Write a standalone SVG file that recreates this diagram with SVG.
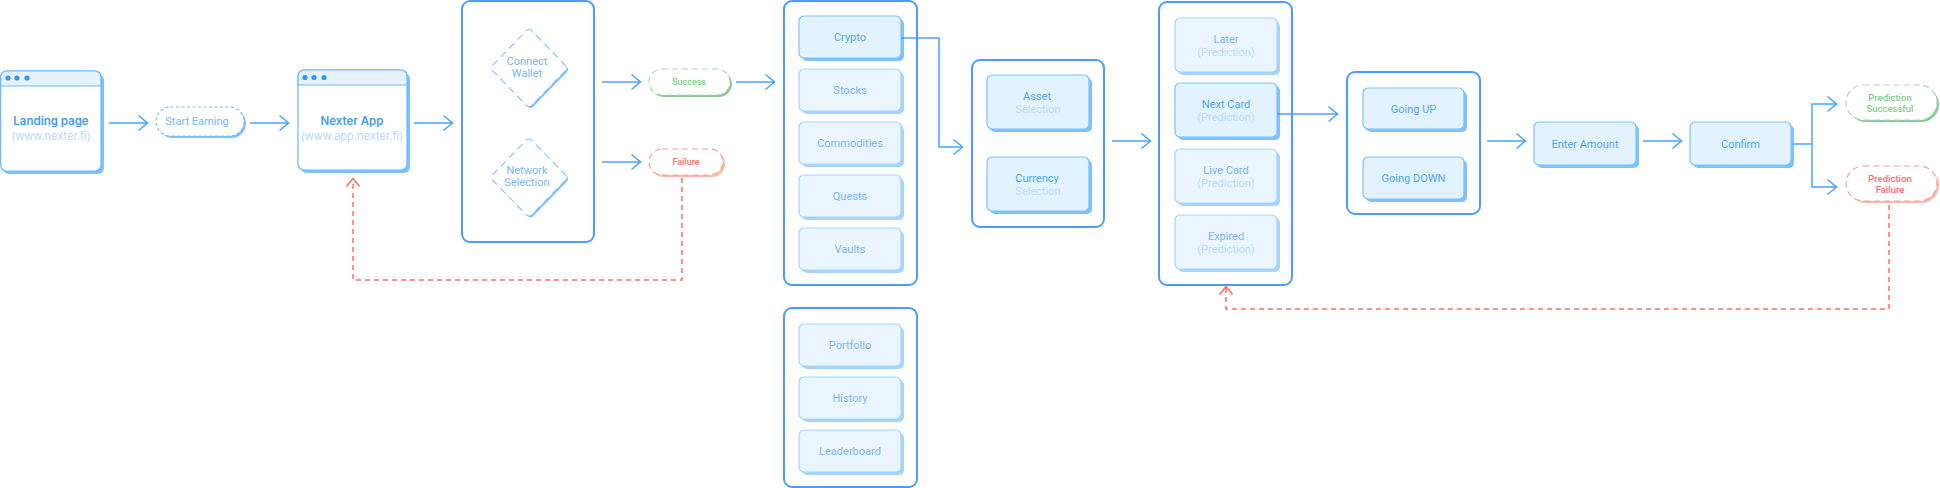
<svg xmlns="http://www.w3.org/2000/svg" width="1940" height="488" viewBox="0 0 1940 488">
<style>
text{font-family:Roboto,"Liberation Sans",sans-serif;font-size:11px;text-anchor:middle;fill:#4ea6ff}
.f{fill:#7ab4ff}
.s{fill:#b8dcff}
.h{font-family:Inter,"Liberation Sans",sans-serif;font-weight:600;font-size:11.500px;fill:#3f9dfb}
.t{font-family:Inter,"Liberation Sans",sans-serif;font-size:11px;fill:#b4daff}
.grp{fill:#fff;stroke:#4a9dff;stroke-width:2}
.sh{fill:#7cc2ff;stroke:none}
.shf{fill:#a4d4ff;stroke:none}
.it{fill:#e3f2ff;stroke:#7cc2ff;stroke-width:1.200}
.itf{fill:#ebf5ff;stroke:#a4d6ff;stroke-width:1.200}
.w{fill:#fff;stroke:#6cb8ff;stroke-width:1.200}
.hd{fill:#e6f3ff;stroke:#6cb8ff;stroke-width:1.200}
.d{fill:#2c99ff}
.dash{fill:#fff;stroke:#7cc0ff;stroke-width:1.200;stroke-dasharray:3 2.500}
.dia{fill:#fff;stroke:#8ac6ff;stroke-width:1.200;stroke-dasharray:7 5}
.gs{fill:#8fc79a}.gd{fill:#fff;stroke:#a2dcae;stroke-width:1.200;stroke-dasharray:6 4}
.rs{fill:#ffb7ae}.rd{fill:#fff;stroke:#ff9c92;stroke-width:1.200;stroke-dasharray:6 4}
.gt{fill:#7fce8e;font-weight:500}.rt{fill:#ff6f63;font-weight:500}
#connectors path{fill:none;stroke:#46a4ff;stroke-width:1.500;marker-end:url(#a)}
#connectors path.r{stroke:#ff6f63;stroke-dasharray:5 4;marker-end:url(#ar)}
#connectors path.n{marker-end:none}
</style>
<defs>
<marker id="a" markerUnits="userSpaceOnUse" markerWidth="14" markerHeight="20" refX="11" refY="10" orient="auto"><path d="M1.500 2.500L10.500 10L1.500 17.500" fill="none" stroke="#46a4ff" stroke-width="1.500"/></marker>
<marker id="ar" markerUnits="userSpaceOnUse" markerWidth="14" markerHeight="20" refX="11" refY="10" orient="auto"><path d="M2.500 3.500L10.500 10L2.500 16.500" fill="none" stroke="#ff6f63" stroke-width="1.500"/></marker>
<path id="dm" d="M526.500 30.500Q529 28.500 531.500 30.500L565.500 65.500Q567.500 68 565.500 70.500L531.500 105.500Q529 107.500 526.500 105.500L492.500 70.500Q490.500 68 492.500 65.500z"/>
</defs>

<g id="landing"><rect class="sh" x="3" y="74" width="101" height="100" rx="6"/><rect class="w" x="0.600" y="71" width="100.400" height="100" rx="6"/><path class="hd" d="M0.600 86V77a6 6 0 0 1 6-6H95a6 6 0 0 1 6 6v9z"/><circle class="d" cx="8" cy="78" r="2.600"/><circle class="d" cx="17" cy="78" r="2.600"/><circle class="d" cx="27" cy="78" r="2.600"/><text class="h" x="51" y="125">Landing page</text><text class="t" x="51" y="140">(www.nexter.fi)</text></g>
<g id="start"><rect class="sh" x="158" y="109" width="88" height="29" rx="14.500"/><rect class="dash" x="156" y="107" width="88" height="29" rx="14.500"/><text class="f" x="197" y="125">Start Earning</text></g>
<g id="app"><rect class="sh" x="301" y="73" width="109" height="100" rx="6"/><rect class="w" x="298" y="70" width="109" height="100" rx="6"/><path class="hd" d="M298 85V76a6 6 0 0 1 6-6H401a6 6 0 0 1 6 6v9z"/><circle class="d" cx="305" cy="77.500" r="2.600"/><circle class="d" cx="314" cy="77.500" r="2.600"/><circle class="d" cx="324" cy="77.500" r="2.600"/><text class="h" x="352" y="125">Nexter App</text><text class="t" x="352" y="140">(www.app.nexter.fi)</text></g>

<g id="wallet-group"><rect class="grp" x="462" y="1" width="132" height="241" rx="8"/>
<g id="connect"><use href="#dm" class="sh" x="1.500" y="1.500"/><use href="#dm" class="dia"/><text class="f" x="527" y="65">Connect</text><text class="f" x="527" y="77">Wallet</text></g>
<g id="network"><use href="#dm" class="sh" x="1.500" y="111"/><use href="#dm" class="dia" y="109.500"/><text class="f" x="527" y="174">Network</text><text class="f" x="527" y="186">Selection</text></g></g>
<g id="success"><rect class="gs" x="651" y="71" width="81" height="26" rx="13"/><rect class="gd" x="649" y="69" width="81" height="26" rx="13"/><text class="gt" x="689" y="85" style="font-size:9px">Success</text></g>
<g id="failure"><rect class="rs" x="651" y="151" width="74" height="26" rx="13"/><rect class="rd" x="649" y="149" width="74" height="26" rx="13"/><text class="rt" x="686" y="165" style="font-size:9px">Failure</text></g>

<g id="markets"><rect class="grp" x="784" y="1" width="133" height="284" rx="8"/>
<g id="crypto"><rect class="sh" x="802" y="19" width="102" height="42" rx="5"/><rect class="it" x="799" y="16" width="102" height="42" rx="5"/><text x="850" y="41">Crypto</text></g>
<g id="stocks"><rect class="shf" x="802" y="72" width="102" height="42" rx="5"/><rect class="itf" x="799" y="69" width="102" height="42" rx="5"/><text class="f" x="850" y="94">Stocks</text></g>
<g id="commodities"><rect class="shf" x="802" y="125" width="102" height="42" rx="5"/><rect class="itf" x="799" y="122" width="102" height="42" rx="5"/><text class="f" x="850" y="147">Commodities</text></g>
<g id="quests"><rect class="shf" x="802" y="178" width="102" height="42" rx="5"/><rect class="itf" x="799" y="175" width="102" height="42" rx="5"/><text class="f" x="850" y="200">Quests</text></g>
<g id="vaults"><rect class="shf" x="802" y="231" width="102" height="42" rx="5"/><rect class="itf" x="799" y="228" width="102" height="42" rx="5"/><text class="f" x="850" y="253">Vaults</text></g></g>

<g id="account"><rect class="grp" x="784" y="308" width="133" height="179" rx="8"/>
<g id="portfolio"><rect class="shf" x="802" y="327" width="102" height="42" rx="5"/><rect class="itf" x="799" y="324" width="102" height="42" rx="5"/><text class="f" x="850" y="349">Portfolio</text></g>
<g id="history"><rect class="shf" x="802" y="380" width="102" height="42" rx="5"/><rect class="itf" x="799" y="377" width="102" height="42" rx="5"/><text class="f" x="850" y="402">History</text></g>
<g id="leaderboard"><rect class="shf" x="802" y="433" width="102" height="42" rx="5"/><rect class="itf" x="799" y="430" width="102" height="42" rx="5"/><text class="f" x="850" y="455">Leaderboard</text></g></g>

<g id="selection"><rect class="grp" x="972" y="60" width="132" height="167" rx="8"/>
<g id="asset"><rect class="sh" x="990" y="78" width="102" height="54" rx="5"/><rect class="it" x="987" y="75" width="102" height="54" rx="5"/><text x="1037" y="100">Asset</text><text class="s" x="1038" y="113">Selection</text></g>
<g id="currency"><rect class="sh" x="990" y="160" width="102" height="54" rx="5"/><rect class="it" x="987" y="157" width="102" height="54" rx="5"/><text x="1037" y="182">Currency</text><text class="s" x="1038" y="195">Selection</text></g></g>

<g id="cards"><rect class="grp" x="1159" y="2" width="133" height="283" rx="8"/>
<g id="later"><rect class="shf" x="1178" y="21" width="102" height="54" rx="5"/><rect class="itf" x="1175" y="18" width="102" height="54" rx="5"/><text class="f" x="1226" y="43">Later</text><text class="s" x="1226" y="56">(Prediction)</text></g>
<g id="next"><rect class="sh" x="1178" y="86" width="102" height="54" rx="5"/><rect class="it" x="1175" y="83" width="102" height="54" rx="5"/><text x="1226" y="108">Next Card</text><text class="s" x="1226" y="121">(Prediction)</text></g>
<g id="live"><rect class="shf" x="1178" y="152" width="102" height="54" rx="5"/><rect class="itf" x="1175" y="149" width="102" height="54" rx="5"/><text class="f" x="1226" y="174">Live Card</text><text class="s" x="1226" y="187">(Prediction)</text></g>
<g id="expired"><rect class="shf" x="1178" y="218" width="102" height="54" rx="5"/><rect class="itf" x="1175" y="215" width="102" height="54" rx="5"/><text class="f" x="1226" y="240">Expired</text><text class="s" x="1226" y="253">(Prediction)</text></g></g>

<g id="direction"><rect class="grp" x="1347" y="72" width="133" height="142" rx="8"/>
<g id="up"><rect class="sh" x="1366" y="91" width="101" height="41" rx="5"/><rect class="it" x="1363" y="88" width="101" height="41" rx="5"/><text x="1413.500" y="113">Going UP</text></g>
<g id="down"><rect class="sh" x="1366" y="160" width="101" height="42" rx="5"/><rect class="it" x="1363" y="157" width="101" height="42" rx="5"/><text x="1413.500" y="182">Going DOWN</text></g></g>

<g id="amount"><rect class="sh" x="1537" y="125" width="102" height="43" rx="5"/><rect class="it" x="1534" y="122" width="102" height="43" rx="5"/><text x="1585" y="148">Enter Amount</text></g>
<g id="confirm"><rect class="sh" x="1693" y="125" width="101" height="43" rx="5"/><rect class="it" x="1690" y="122" width="101" height="43" rx="5"/><text x="1740.500" y="148">Confirm</text></g>
<g id="pred-success"><rect class="gs" x="1848" y="87" width="91" height="35" rx="17.500"/><rect class="gd" x="1846" y="85" width="91" height="35" rx="17.500"/><text class="gt" x="1890" y="101" style="font-size:9.500px">Prediction</text><text class="gt" x="1890" y="112" style="font-size:9.500px">Successful</text></g>
<g id="pred-failure"><rect class="rs" x="1848" y="168" width="91" height="35" rx="17.500"/><rect class="rd" x="1846" y="166" width="91" height="35" rx="17.500"/><text class="rt" x="1890" y="182" style="font-size:9.500px">Prediction</text><text class="rt" x="1890" y="193" style="font-size:9.500px">Failure</text></g>

<g id="connectors">
<path d="M109 123H148"/><path d="M250 123H289"/><path d="M414 123H453"/>
<path d="M602 82H641"/><path d="M602 162H641"/><path d="M736 82H775"/>
<path d="M901 38H939V147H963"/><path d="M1112 141H1151"/><path d="M1277 114H1338"/>
<path d="M1487 141H1526"/><path d="M1643 141H1682"/>
<path class="n" d="M1794 144H1812"/><path d="M1812 144V104H1837"/><path d="M1812 144V187H1837"/>
<path class="r" d="M682 178V280H353V178"/>
<path class="r" d="M1889 205V309H1226V286"/>
</g>
</svg>
